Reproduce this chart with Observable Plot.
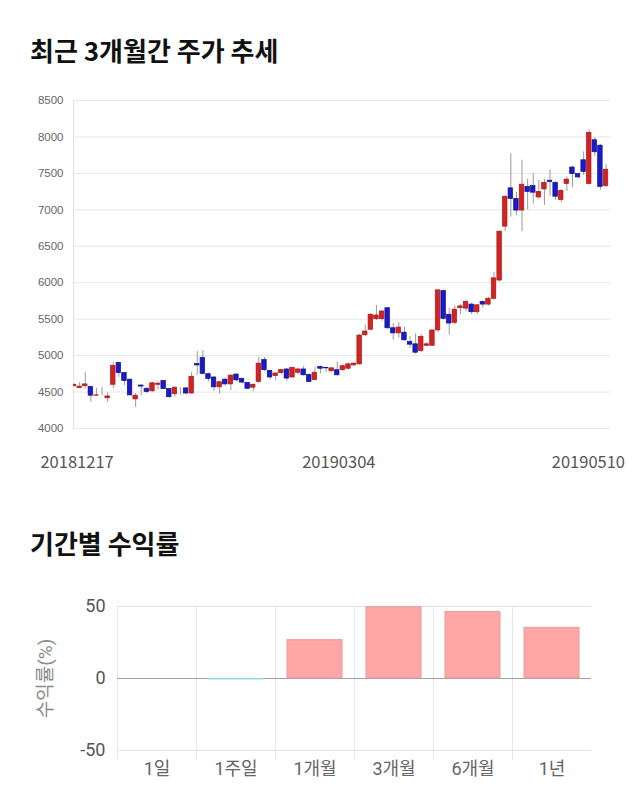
<!DOCTYPE html>
<html><head><meta charset="utf-8">
<script src="https://cdn.jsdelivr.net/npm/d3@7"></script>
<script src="https://cdn.jsdelivr.net/npm/@observablehq/plot@0.6"></script>
<style>
body{margin:0;background:#fff;width:640px;height:810px;position:relative;overflow:hidden;font-family:"Noto Sans CJK KR",sans-serif;}
.title{position:absolute;left:30px;font-size:26px;font-weight:700;color:#111;line-height:1;margin:0;white-space:nowrap;}
#t1{top:37px}
#t2{top:530px}
#c1{position:absolute;left:0;top:80px}
#c2{position:absolute;left:0;top:585px}
</style></head><body>
<div class="title" id="t1">최근 3개월간 주가 추세</div>
<div id="c1"></div>
<div class="title" id="t2">기간별 수익률</div>
<div id="c2"></div>
<script>
// Daily candles, 2018-12-17 .. 2019-05-10 (trading days)
const openP  = [4580,4555,4580,4570,4450,4460,4415,4600,4900,4760,4670,4400,4590,4545,4510,4600,4650,4540,4470,4510,4550,4480,4885,4970,4745,4700,4565,4670,4605,4740,4680,4625,4560,4640,4940,4790,4720,4760,4810,4700,4765,4810,4735,4665,4845,4830,4785,4800,4800,4820,4865,4880,5280,5355,5500,5500,5650,5375,5305,5315,5185,5155,5065,5135,5135,5345,5885,5560,5450,5650,5645,5700,5595,5735,5700,5780,6030,6770,7295,7150,6990,7315,7325,7170,7280,7400,7370,7135,7355,7580,7490,7680,7355,7955,7880,7325];
const closeP = [4600,4575,4605,4450,4455,4460,4440,4860,4760,4650,4455,4450,4575,4500,4620,4615,4540,4430,4560,4510,4480,4710,4865,4750,4680,4565,4635,4605,4725,4660,4630,4545,4600,4890,4800,4700,4755,4800,4685,4830,4810,4730,4640,4765,4820,4825,4825,4730,4855,4880,4890,5275,5330,5560,5550,5605,5375,5305,5385,5210,5150,5040,5255,5155,5345,5895,5505,5440,5630,5675,5735,5595,5690,5700,5780,6060,6700,7180,7150,6990,7345,7245,7235,7245,7370,7380,7180,7260,7415,7490,7445,7520,8055,7790,7315,7550];
const highP  = [4610,4630,4770,4580,4550,4560,4490,4905,4910,4770,4680,4480,4595,4560,4630,4640,4660,4550,4570,4560,4570,4770,5060,5070,4760,4710,4640,4690,4740,4750,4700,4630,4610,4975,4975,4800,4760,4815,4820,4840,4830,4855,4750,4840,4855,4840,4830,4910,4870,4900,4900,5290,5420,5580,5690,5620,5660,5440,5450,5390,5260,5300,5290,5180,5350,5900,5895,5650,5680,5700,5760,5720,5700,5750,5800,6140,6710,7190,7770,7240,7680,7420,7500,7400,7420,7550,7390,7280,7450,7600,7500,7795,8095,7990,7900,7625];
const lowP   = [4570,4550,4540,4360,4440,4450,4360,4550,4700,4590,4440,4290,4450,4480,4500,4530,4530,4410,4430,4460,4460,4470,4730,4730,4640,4510,4475,4580,4520,4640,4610,4530,4505,4620,4780,4665,4660,4740,4645,4690,4740,4720,4630,4655,4750,4770,4770,4720,4780,4800,4860,4870,5260,5340,5480,5470,5360,5210,5240,5200,5100,5020,5040,5120,5125,5320,5490,5280,5420,5560,5600,5560,5560,5650,5680,5760,6010,6700,6900,6920,6700,7000,7080,7140,7060,7190,7130,7100,7250,7300,7420,7470,7340,7730,7270,7300];
const priceTicks = [4000,4500,5000,5500,6000,6500,7000,7500,8000,8500];
const dateTickIdx = [0, 48, 95];
const dateTickLabels = ["20181217","20190304","20190510"];

// Period returns (%)
const periods = ["1일","1주일","1개월","3개월","6개월","1년"];
const returns = [0, -1.0, 26.6, 49.5, 46.1, 35.2];
const returnTicks = [-50, 0, 50];
const yLabel = "수익률(%)";

const UP = "#d42222", UP_EDGE = "#a81818";
const DOWN = "#1a1ac6", DOWN_EDGE = "#10108f";

const candles = openP.map((o, i) => ({i, open: o, close: closeP[i], high: highP[i], low: lowP[i]}));
const xMin = -0.1, xMax = 95.8;

const dateText = (k, opts) => Plot.text([k], {
  x: d => dateTickIdx[d], text: d => dateTickLabels[d], frameAnchor: "bottom",
  dy: 34, lineAnchor: "middle", fontSize: 16.5, fill: "#555",
  fontFamily: "'Noto Sans CJK KR', sans-serif", ...opts
});

const chart1 = Plot.plot({
  width: 640, height: 400,
  marginLeft: 73, marginRight: 30, marginTop: 20, marginBottom: 52,
  style: {fontFamily: "'Liberation Sans', Arial, sans-serif", color: "#666", background: "#fff"},
  x: {type: "linear", domain: [xMin, xMax], axis: null},
  y: {domain: [4000, 8500], axis: null},
  color: {type: "identity"},
  marks: [
    Plot.ruleY(priceTicks, {stroke: "#e6e6e6"}),
    Plot.ruleX([xMin], {stroke: "#e2e2e2"}),
    Plot.axisY({ticks: priceTicks, tickSize: 0, tickPadding: 10, fontSize: 11.5, tickFormat: d => String(d), label: null}),
    Plot.ruleX(candles, {x: "i", y1: "low", y2: "high", stroke: "#9a9a9a", strokeWidth: 1, clip: true}),
    Plot.rect(candles, {
      x1: d => d.i - 0.4, x2: d => d.i + 0.4, y1: "open", y2: "close",
      fill: d => d.close >= d.open ? UP : DOWN,
      stroke: d => d.close >= d.open ? UP_EDGE : DOWN_EDGE,
      strokeWidth: 0.7, clip: true
    }),
    dateText(0, {dx: 3, textAnchor: "middle"}),
    dateText(1, {dx: -4, textAnchor: "middle"}),
    dateText(2, {dx: 19, textAnchor: "end"})
  ]
});
document.getElementById("c1").appendChild(chart1);

const rets = periods.map((p, k) => ({p, r: returns[k]}));
const chart2 = Plot.plot({
  width: 640, height: 225,
  marginLeft: 117, marginRight: 49, marginTop: 21, marginBottom: 60,
  style: {fontFamily: "Roboto, 'Noto Sans CJK KR', sans-serif", color: "#555", background: "#fff"},
  x: {type: "band", domain: periods, padding: 0, axis: null},
  y: {domain: [-50, 50], axis: null},
  color: {type: "identity"},
  marks: [
    Plot.ruleY([50, -50], {stroke: "#e2e2e2"}),
    Plot.ruleX(periods, {x: d => d, dx: -39.5, y1: 50, y2: -50, insetBottom: -10, stroke: "#e6e6e6"}),
    Plot.ruleY([0], {stroke: "#a0a0a0"}),
    Plot.barY(rets, {
      x: "p", y: "r", insetLeft: 12, insetRight: 12,
      fill: d => d.r >= 0 ? "#ffa6a6" : "#8fd6e8",
      stroke: d => d.r >= 0 ? "#e89a9a" : "none", strokeWidth: 1
    }),
    Plot.axisY({ticks: returnTicks, tickSize: 0, tickPadding: 12, fontSize: 18, tickFormat: d => String(d), label: null}),
    Plot.axisX({tickSize: 0, tickPadding: 12, fontSize: 18, label: null, fill: "#666"}),
    Plot.text([yLabel], {frameAnchor: "left", textAnchor: "middle", rotate: -90, dx: -72, text: d => d, fontSize: 19, fill: "#8a8a8a"})
  ]
});
document.getElementById("c2").appendChild(chart2);
</script>
</body></html>
